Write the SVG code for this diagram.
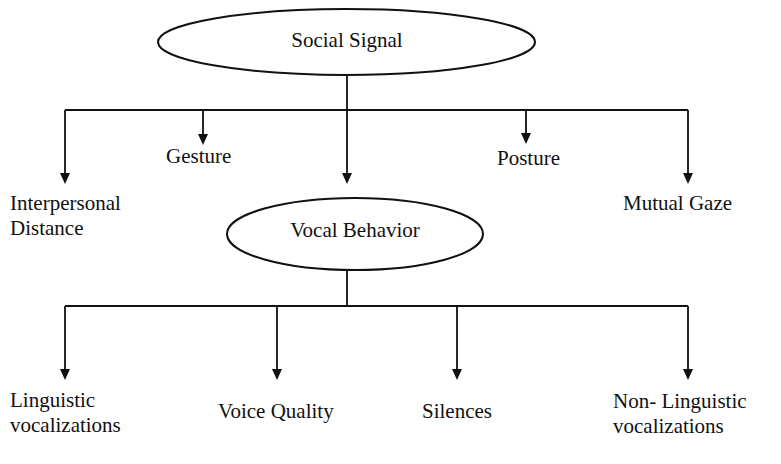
<svg xmlns="http://www.w3.org/2000/svg" width="781" height="464" viewBox="0 0 781 464">
<style>
.n{fill:none;stroke:#111;stroke-width:2}
.c{fill:none;stroke:#111;stroke-width:1.8}
.h{fill:#111}
.t{font-family:'Liberation Serif','DejaVu Serif',serif;font-size:21px;fill:#111}
</style>
<rect width="781" height="464" fill="#fff"/>
<g id="connectors">
<path class="c" d="M347,75 V110 M65,110 H688 M347,270 V306 M65,306 H688"/>
<path class="c" d="M65,110 V173 M203,110 V134 M347,110 V173 M526,110 V133 M688,110 V173 M65,306 V369 M277,306 V369 M457,306 V369 M688,306 V369"/>
<path class="h" d="M60,173 L70,173 L65,184 Z"/>
<path class="h" d="M198,134 L208,134 L203,145 Z"/>
<path class="h" d="M342,173 L352,173 L347,184 Z"/>
<path class="h" d="M521,133 L531,133 L526,144 Z"/>
<path class="h" d="M683,173 L693,173 L688,184 Z"/>
<path class="h" d="M60,369 L70,369 L65,380 Z"/>
<path class="h" d="M272,369 L282,369 L277,380 Z"/>
<path class="h" d="M452,369 L462,369 L457,380 Z"/>
<path class="h" d="M683,369 L693,369 L688,380 Z"/>
</g>
<g class="t">
<g id="social-signal">
<ellipse class="n" cx="346.5" cy="42" rx="188.5" ry="33"/>
<text x="347" y="47" text-anchor="middle">Social Signal</text>
</g>
<g id="interpersonal-distance">
<text x="10" y="210">Interpersonal</text>
<text x="10" y="235">Distance</text>
</g>
<g id="gesture"><text x="166" y="163">Gesture</text></g>
<g id="posture"><text x="497" y="165">Posture</text></g>
<g id="mutual-gaze"><text x="623" y="210">Mutual Gaze</text></g>
<g id="vocal-behavior">
<ellipse class="n" cx="355" cy="234" rx="128" ry="36"/>
<text x="355" y="237" text-anchor="middle">Vocal Behavior</text>
</g>
<g id="linguistic">
<text x="10" y="407">Linguistic</text>
<text x="10" y="432">vocalizations</text>
</g>
<g id="voice-quality"><text x="218" y="418">Voice Quality</text></g>
<g id="silences"><text x="422" y="418">Silences</text></g>
<g id="non-linguistic">
<text x="613" y="408">Non- Linguistic</text>
<text x="613" y="433">vocalizations</text>
</g>
</g>
</svg>
